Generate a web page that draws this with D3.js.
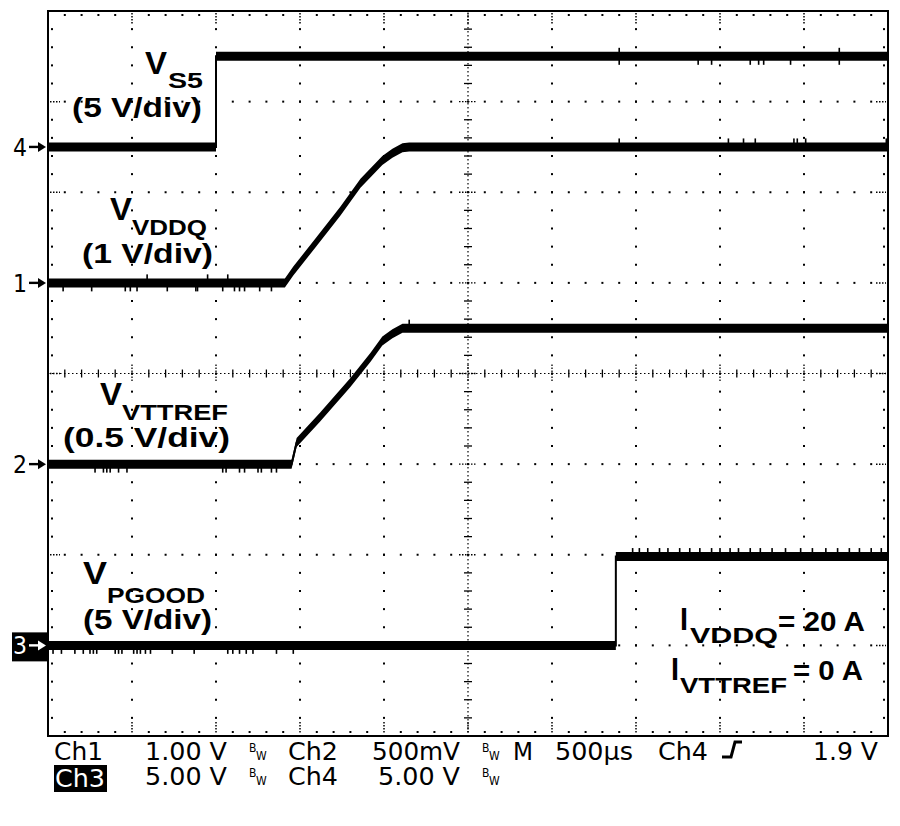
<!DOCTYPE html>
<html>
<head>
<meta charset="utf-8">
<script src="https://cdn.jsdelivr.net/npm/d3@7"></script>
<style>
  body { margin: 0; background: #fff; }
  svg { display: block; }
</style>
</head>
<body>
<div id="chart"></div>
<script>
// ---- data: time in ms after the trigger (VS5 rising), voltage in V ----
var vs5_t    = [-1, 0, 0, 4];
var vs5_v    = [0, 0, 5.0, 5.0];
var vddq_t   = [-1, 0.41, 0.46, 0.60, 0.74, 0.86, 0.99, 1.05, 1.11, 1.15, 4];
var vddq_v   = [0, 0, 0.13, 0.46, 0.79, 1.10, 1.35, 1.43, 1.49, 1.50, 1.50];
var vttref_t = [-1, 0.45, 0.48, 0.62, 0.80, 0.92, 0.99, 1.05, 1.11, 1.15, 4];
var vttref_v = [0, 0, 0.12, 0.26, 0.45, 0.59, 0.68, 0.72, 0.75, 0.75, 0.75];
var pgood_t  = [-1, 2.38, 2.38, 4];
var pgood_v  = [0, 0, 4.9, 4.9];

// scope channel settings
var channels    = ["Ch1", "Ch2", "Ch3", "Ch4"];
var voltsPerDiv = [1.0, 0.5, 5.0, 5.0];
var groundDiv   = [1, -1, -3, 2.5];   // ground marker, divisions from centre

// small noise spikes seen on the traces (ms, +1 up / -1 down / 0 both)
var vs5_glitch_t    = [2.40, 2.87, 2.95, 3.18, 3.23, 3.26, 3.42, 3.71];
var vs5_glitch_d    = [0, -1, -1, -1, -1, -1, -1, 0];
var vddq_glitch_t   = [-0.91, -0.74, -0.54, -0.51, -0.47, -0.41, -0.29, -0.12, -0.11, -0.05, 0.04, 0.07, 0.11, 0.14, 0.17, 0.26, 0.33,
                       2.40, 3.05, 3.14, 3.21, 3.44, 3.46, 3.51, 3.99];
var vddq_glitch_d   = [-1, -1, -1, -1, -1, 1, -1, -1, -1, 1, -1, 1, -1, -1, -1, -1, -1,
                       1, 1, 1, 1, 1, 1, 1, 1];
var vttref_glitch_t = [-0.72, -0.67, -0.65, -0.63, -0.58, -0.53, 0.04, 0.06, 0.14, 0.17, 0.25, 0.27, 0.33, 0.36, 1.15];
var vttref_glitch_d = [-1, -1, -1, -1, -1, -1, -1, -1, -1, -1, -1, -1, -1, -1, 1];
var pgood_glitch_t  = [-0.97, -0.92, -0.84, -0.79, -0.75, -0.73, -0.71, -0.60, -0.58, -0.56, -0.49, -0.47, -0.45, -0.42, -0.39,
                       -0.26, -0.13, 0.07, 0.10, 0.14, 0.18, 0.22, 0.36, 0.46,
                       2.48, 2.52, 2.57, 2.64, 2.69, 2.76, 2.82, 2.88, 2.95, 3.00, 3.06, 3.11, 3.18, 3.24, 3.31, 3.39,
                       3.48, 3.55, 3.63, 3.70, 3.77, 3.83, 3.90, 3.96];
var pgood_glitch_d  = [-1, -1, -1, -1, -1, -1, -1, -1, -1, -1, -1, -1, -1, -1, -1,
                       -1, -1, -1, -1, -1, -1, -1, -1, -1,
                       1, 1, 1, 1, 1, 1, 1, 1, 1, 1, 1, 1, 1, 1, 1, 1,
                       1, 1, 1, 1, 1, 1, 1, 1];

// status readout lines
var status_row1 = [["Ch1", 54, 49], ["1.00 V", 145, 82], ["Ch2", 288, 50], ["500mV", 372, 88],
                   ["M", 513, 20], ["500\u00b5s", 555, 78], ["Ch4", 658, 50], ["1.9 V", 813, 65]];
var status_row2 = [["5.00 V", 145, 82], ["Ch4", 288, 50], ["5.00 V", 378, 82]];

var svgW = 900, svgH = 826;
var svg = d3.select("#chart").append("svg")
  .attr("width", svgW)
  .attr("height", svgH);

var gLeft = 48, gRight = 888, gTop = 11, gBottom = 736;

// time axis: 500 us/div, 10 div; vertical: 8 div
var x = d3.scaleLinear().domain([-1, 4]).range([gLeft, gRight]);
var y = d3.scaleLinear().domain([-4, 4]).range([gBottom, gTop]);
var gx = d3.scaleLinear().domain([0, 10]).range([gLeft, gRight]);
var gy = d3.scaleLinear().domain([0, 8]).range([gTop, gBottom]);

// ---------- graticule ----------
var grid = svg.append("g");

function dot(px, py){
  grid.append("rect").attr("x", px - 1).attr("y", py - 1)
    .attr("width", 2).attr("height", 2).attr("fill", "#000");
}

// dotted major lines (not the centre ones)
for (var i = 1 ; i < 10 ; i++){
  if (i == 5) continue;
  for (var j = 1 ; j < 40 ; j++){
    dot(gx(i), gy(j / 5));
  }
}
for (var k = 1 ; k < 8 ; k++){
  if (k == 4) continue;
  for (var m = 1 ; m < 50 ; m++){
    dot(gx(m / 5), gy(k));
  }
}

// centre cross: fine dotted line with small ticks
var cx = gx(5), cy = gy(4);
grid.append("line").attr("x1", gLeft).attr("x2", gRight).attr("y1", cy).attr("y2", cy)
  .attr("stroke", "#000").attr("stroke-width", 1.2).attr("stroke-dasharray", "1.5,2.5");
grid.append("line").attr("x1", cx).attr("x2", cx).attr("y1", gTop).attr("y2", gBottom)
  .attr("stroke", "#000").attr("stroke-width", 1.2).attr("stroke-dasharray", "1.5,2.5");
for (var m = 1 ; m < 50 ; m++){
  var len = (m % 5 == 0) ? 9 : 4;
  grid.append("line").attr("x1", gx(m / 5)).attr("x2", gx(m / 5))
    .attr("y1", cy - len).attr("y2", cy + len)
    .attr("stroke", "#000").attr("stroke-width", 1.3)
    .attr("stroke-dasharray", m % 5 == 0 ? "1.5,1.5" : null);
}
for (var j = 1 ; j < 40 ; j++){
  var len2 = (j % 5 == 0) ? 9 : 4;
  grid.append("line").attr("y1", gy(j / 5)).attr("y2", gy(j / 5))
    .attr("x1", cx - len2).attr("x2", cx + len2)
    .attr("stroke", "#000").attr("stroke-width", 1.3)
    .attr("stroke-dasharray", j % 5 == 0 ? "1.5,1.5" : null);
}

// border ticks
for (var m = 1 ; m < 50 ; m++){
  if (m % 5 == 0){
    grid.append("line").attr("x1", gx(m / 5)).attr("x2", gx(m / 5)).attr("y1", gTop + 2).attr("y2", gTop + 14)
      .attr("stroke", "#000").attr("stroke-width", 1.5).attr("stroke-dasharray", "1.5,1.5");
    grid.append("line").attr("x1", gx(m / 5)).attr("x2", gx(m / 5)).attr("y1", gBottom - 14).attr("y2", gBottom - 2)
      .attr("stroke", "#000").attr("stroke-width", 1.5).attr("stroke-dasharray", "1.5,1.5");
  } else {
    dot(gx(m / 5), gTop + 4);
    dot(gx(m / 5), gBottom - 4);
  }
}
for (var j = 1 ; j < 40 ; j++){
  if (j % 5 == 0){
    grid.append("line").attr("y1", gy(j / 5)).attr("y2", gy(j / 5)).attr("x1", gLeft + 2).attr("x2", gLeft + 12)
      .attr("stroke", "#000").attr("stroke-width", 1.5).attr("stroke-dasharray", "1.5,1.5");
    grid.append("line").attr("y1", gy(j / 5)).attr("y2", gy(j / 5)).attr("x1", gRight - 12).attr("x2", gRight - 2)
      .attr("stroke", "#000").attr("stroke-width", 1.5).attr("stroke-dasharray", "1.5,1.5");
  } else {
    dot(gLeft + 4, gy(j / 5));
    dot(gRight - 4, gy(j / 5));
  }
}

grid.append("rect")
  .attr("x", gLeft).attr("y", gTop)
  .attr("width", gRight - gLeft).attr("height", gBottom - gTop)
  .attr("fill", "none").attr("stroke", "#000").attr("stroke-width", 2);

// ---------- traces ----------
var traces = svg.append("g");
var half = 4.5;

function drawTrace(ts, vs, chIdx, gt, gd){
  var data = ts.map(function(t, i){ return {t: t, v: vs[i]}; });
  var yy = function(d){ return y(groundDiv[chIdx] + d.v / voltsPerDiv[chIdx]); };

  var area = d3.area()
    .x(function(d){ return x(d.t); })
    .y0(function(d){ return yy(d) - half; })
    .y1(function(d){ return yy(d) + half; });
  var line = d3.line()
    .x(function(d){ return x(d.t); })
    .y(function(d){ return yy(d); });

  traces.append("path").datum(data).attr("d", area).attr("fill", "#000");
  traces.append("path").datum(data).attr("d", line)
    .attr("fill", "none").attr("stroke", "#000").attr("stroke-width", 2);

  // spikes sit on the flat parts: take the level of the segment they fall in
  for (var i = 0 ; i < gt.length ; i++){
    var t = gt[i];
    var idx = d3.bisectRight(ts, t) - 1;
    var v = vs[Math.max(0, Math.min(idx, vs.length - 1))];
    var yc = yy({t: t, v: v});
    var y0 = gd[i] < 0 ? yc : yc - half - 4;
    var y1 = gd[i] > 0 ? yc : yc + half + 4;
    traces.append("rect").attr("x", x(t) - 0.8).attr("y", y0)
      .attr("width", 1.6).attr("height", y1 - y0).attr("fill", "#000");
  }
}

drawTrace(vs5_t, vs5_v, 3, vs5_glitch_t, vs5_glitch_d);
drawTrace(vddq_t, vddq_v, 0, vddq_glitch_t, vddq_glitch_d);
drawTrace(vttref_t, vttref_v, 1, vttref_glitch_t, vttref_glitch_d);
drawTrace(pgood_t, pgood_v, 2, pgood_glitch_t, pgood_glitch_d);

// ---------- ground markers ----------
var markers = svg.append("g")
  .style("font-family", "'DejaVu Sans', 'Liberation Sans', sans-serif");

function marker(chIdx, label, inverted){
  var my = y(groundDiv[chIdx]);
  var col = inverted ? "#fff" : "#000";
  if (inverted){
    markers.append("rect").attr("x", 12).attr("y", my - 13)
      .attr("width", 36).attr("height", 29).attr("fill", "#000");
  }
  markers.append("text").attr("x", 13).attr("y", my + 9)
    .attr("fill", col).style("font-size", "24px")
    .attr("textLength", 14).attr("lengthAdjust", "spacingAndGlyphs").text(label);
  markers.append("path")
    .attr("d", "M29," + my + "H42")
    .attr("fill", "none").attr("stroke", col).attr("stroke-width", 2.4);
  markers.append("path")
    .attr("d", "M38," + (my - 5) + "L46," + my + "L38," + (my + 5) + "Z")
    .attr("fill", col);
}
marker(3, "4", false);
marker(0, "1", false);
marker(1, "2", false);
marker(2, "3", true);

// ---------- labels ----------
var labels = svg.append("g")
  .style("font-family", "'Liberation Sans', Arial, Helvetica, sans-serif")
  .style("font-weight", "bold")
  .attr("fill", "#000");

function txt(px, py, s, size, w){
  var t = labels.append("text").attr("x", px).attr("y", py)
    .style("font-size", size + "px").text(s);
  if (w) t.attr("textLength", w).attr("lengthAdjust", "spacingAndGlyphs");
  return t;
}

txt(145, 74, "V", 31, 22);   txt(168, 88, "S5", 22, 35);       txt(72, 117, "(5 V/div)", 27, 130);
txt(110, 220, "V", 31, 22);  txt(132, 235, "VDDQ", 22, 75);    txt(82, 263, "(1 V/div)", 27, 131);
txt(100, 405, "V", 31, 22);  txt(122, 420, "VTTREF", 22, 106); txt(63, 447, "(0.5 V/div)", 27, 167);
txt(83, 584, "V", 31, 24);   txt(107, 603, "PGOOD", 22, 98);   txt(83, 629, "(5 V/div)", 27, 129);

txt(680, 630, "I", 31, 8);   txt(690, 643, "VDDQ", 22, 88);    txt(778, 631, "= 20 A", 28, 87);
txt(671, 680, "I", 31, 8);   txt(680, 693, "VTTREF", 22, 107); txt(793, 680, "= 0 A", 28, 70);

// ---------- status readout ----------
var statusG = svg.append("g")
  .style("font-family", "'DejaVu Sans Condensed', 'Liberation Sans Narrow', 'DejaVu Sans', sans-serif")
  .style("font-size", "25px")
  .attr("fill", "#000");

function stxt(px, py, s, w, col){
  statusG.append("text").attr("x", px).attr("y", py).attr("fill", col || "#000")
    .attr("textLength", w).attr("lengthAdjust", "spacingAndGlyphs").text(s);
}

status_row1.forEach(function(d){ stxt(d[1], 760, d[0], d[2]); });
status_row2.forEach(function(d){ stxt(d[1], 785, d[0], d[2]); });

// inverted Ch3 tag
statusG.append("rect").attr("x", 54).attr("y", 765).attr("width", 53).attr("height", 27).attr("fill", "#000");
stxt(55, 787, "Ch3", 50, "#fff");

// bandwidth-limit marks (B then a lowered W)
function bw(px, py){
  var t = statusG.append("text").attr("x", px).attr("y", py).style("font-size", "12px");
  t.append("tspan").text("B");
  t.append("tspan").attr("dx", 0).attr("dy", 8).text("W");
}
bw(249, 752); bw(482, 752);
bw(249, 777); bw(482, 777);

// trigger slope symbol
statusG.append("path")
  .attr("d", "M722,757H731L735,742H742")
  .attr("fill", "none").attr("stroke", "#000").attr("stroke-width", 3);
</script>
</body>
</html>
